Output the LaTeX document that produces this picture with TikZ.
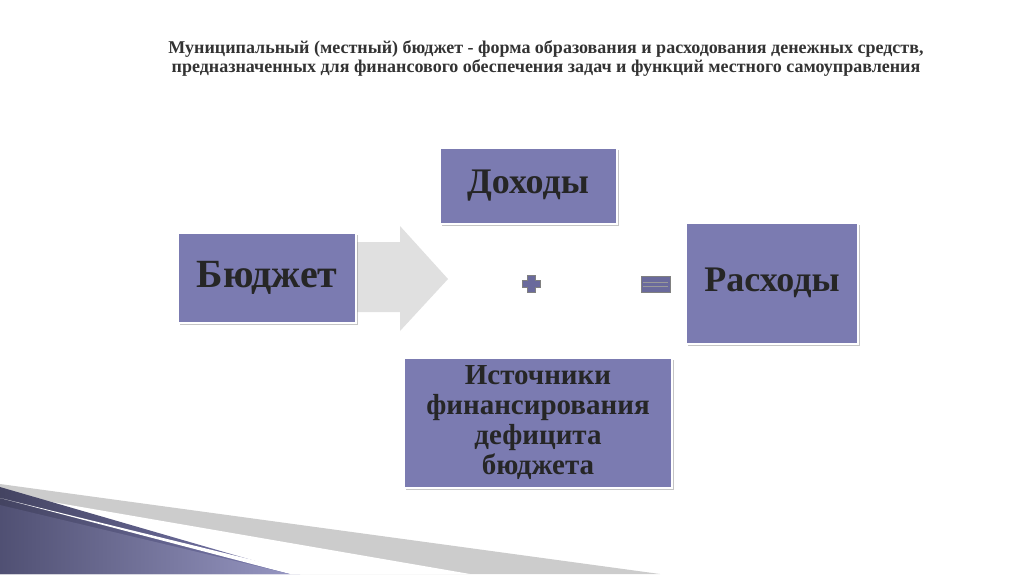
\documentclass[tikz,border=0pt]{standalone}
\usepackage{fontspec}
\setmainfont{Liberation Serif}
\begin{document}
\begin{tikzpicture}[x=1pt,y=-1pt,
  box/.style={draw=white,line width=2pt,fill=boxc,text=black!85,font=\bfseries\fontsize{36}{38}\selectfont,align=center,inner sep=0pt,
    drop shadow={shadow xshift=2pt,shadow yshift=-2pt,fill=black!45}},
  sgn/.style={fill=signc,draw=black!50,line width=0.4pt}]
\usetikzlibrary{shadows}
\definecolor{boxc}{HTML}{7B7BB1}
\definecolor{signc}{HTML}{6A6A9C}
\useasboundingbox (0,0) rectangle (1024,574);
\fill[white] (0,0) rectangle (1024,574);
% bottom-left decoration
\fill[black!20] (0,484) -- (660,574) -- (0,574) -- cycle;
\fill[white] (0,493) -- (470,574) -- (0,574) -- cycle;
\shade[left color=boxc!55!black,right color=boxc] (0,487) -- (300,574) -- (0,574) -- cycle;
\fill[white] (0,498) -- (310,574) -- (290,574) -- cycle;
\shade[left color=boxc!65!black,right color=boxc!80] (0,505) -- (290,574) -- (0,574) -- cycle;
% title
\node[font=\bfseries\fontsize{18}{19}\selectfont,align=center,text=black!80] (t) at (546,58)
 {Муниципальный (местный) бюджет - форма образования и расходования денежных средств,\\
  предназначенных для финансового обеспечения задач и функций местного самоуправления};
% arrow
\fill[black!12] (330,242) -- (400,242) -- (400,226) -- (448,279) -- (400,331) -- (400,312) -- (330,312) -- cycle;
\node[box,minimum width=177pt,minimum height=76pt] (d) at (528,186) {Доходы};
\node[box,font=\bfseries\fontsize{40}{42}\selectfont,minimum width=178pt,minimum height=90pt] (b) at (267,278) {Бюджет};
\node[box,minimum width=172pt,minimum height=121pt] (r) at (772,283) {Расходы};
\node[box,font=\bfseries\fontsize{29}{30}\selectfont,minimum width=268pt,minimum height=130pt] (i) at (538,423) {Источники\\финансирования\\дефицита\\бюджета};
% plus and minus
\draw[sgn] (527,275) -- (535,275) -- (535,280) -- (540,280) -- (540,287) -- (535,287) -- (535,292) -- (527,292) -- (527,287) -- (522,287) -- (522,280) -- (527,280) -- cycle;
\draw[sgn] (641,276) rectangle (670,292);
\draw[black!40] (643,282) -- (668,282) (643,286) -- (668,286);
\end{tikzpicture}
\end{document}
